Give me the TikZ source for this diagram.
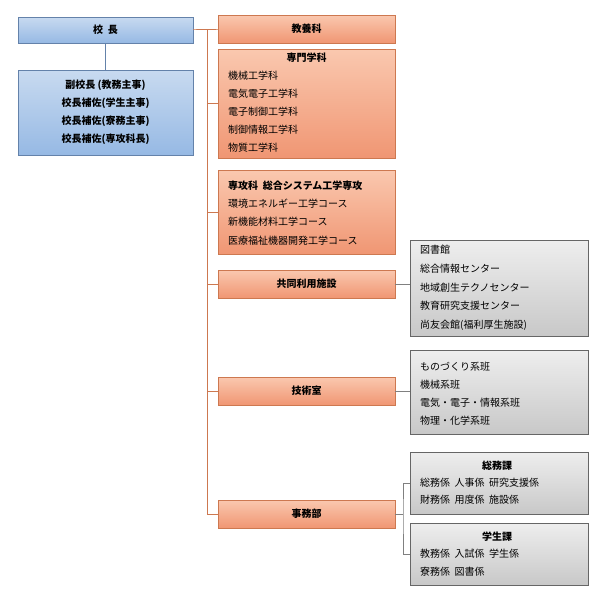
\documentclass[tikz,border=0pt]{standalone}
\usepackage{fontspec}
\setmainfont{Noto Sans CJK JP}
\usetikzlibrary{shadows}

\definecolor{bluetop}{RGB}{200,218,240}
\definecolor{bluebot}{RGB}{150,185,228}
\definecolor{blueedge}{RGB}{100,130,170}
\definecolor{orangetop}{RGB}{250,200,175}
\definecolor{orangebot}{RGB}{240,150,115}
\definecolor{orangeedge}{RGB}{205,120,80}
\definecolor{graytop}{RGB}{238,238,238}
\definecolor{graybot}{RGB}{200,200,200}

\tikzset{
  boxshadow/.style={drop shadow={opacity=0.3, shadow xshift=1pt, shadow yshift=-1pt}},
  bluebox/.style={draw=blueedge, top color=bluetop, bottom color=bluebot, boxshadow, inner sep=0pt},
  orangebox/.style={draw=orangeedge, top color=orangetop, bottom color=orangebot, boxshadow, inner sep=0pt, minimum width=177pt},
  graybox/.style={draw=gray!80!black, top color=graytop, bottom color=graybot, boxshadow, inner sep=0pt, minimum width=178pt},
  head/.style={font=\fontsize{10}{12}\selectfont\bfseries},
  item/.style={font=\fontsize{10}{12}\selectfont, anchor=west, inner sep=0pt},
  orangeline/.style={draw=orangeedge, line width=0.6pt},
  grayline/.style={draw=gray, line width=0.6pt}
}

\begin{document}
\begin{tikzpicture}[x=1pt, y=-1pt]
	\useasboundingbox (0,0) rectangle (600,597);
	% left column
	\node[bluebox, minimum width=175pt, minimum height=26pt, head] (kocho) at (105.5,30) {校\ \ 長};
	\node[bluebox, minimum width=175pt, minimum height=85pt, align=center, font=\fontsize{10}{18}\selectfont\bfseries] (fuku) at (105.5,112.5) {副校長\ (教務主事)\\校長補佐(学生主事)\\校長補佐(寮務主事)\\校長補佐(専攻科長)};
	\draw[draw=blueedge, line width=0.6pt] (kocho) -- (fuku);
	% middle column
	\node[orangebox, minimum height=28pt, head] (kyoyo) at (306.5,29) {教養科};
	\node[orangebox, minimum height=109pt] (senmon) at (306.5,103.5) {};
	\node[head] at (306.5,58) {専門学科};
	\foreach \t [count=\i] in {機械工学科,電気電子工学科,電子制御工学科,制御情報工学科,物質工学科}
		\node[item] at (228,58+18*\i) {\t};
	\node[orangebox, minimum height=84pt] (senkou) at (306.5,212) {};
	\node[item, head] at (228,186) {専攻科\ \ 総合システム工学専攻};
	\foreach \t [count=\i] in {環境エネルギー工学コース,新機能材料工学コース,医療福祉機器開発工学コース}
		\node[item] at (228,185+18.5*\i) {\t};
	\node[orangebox, minimum height=28pt, head] (kyodo) at (306.5,284) {共同利用施設};
	\node[orangebox, minimum height=28pt, head] (gijutsu) at (306.5,391) {技術室};
	\node[orangebox, minimum height=28pt, head] (jimu) at (306.5,514) {事務部};
	% trunk
	\coordinate (top) at (207,30);
	\draw[orangeline] (kocho) -- (kyoyo);
	\draw[orangeline] (top) |- (jimu);
	\foreach \n in {senmon,senkou,kyodo,gijutsu}
		\draw[orangeline] (top |- \n.west) -- (\n.west);
	% right column
	\node[graybox, minimum height=96pt] (shisetsu) at (499,288) {};
	\foreach \t [count=\i] in {図書館,総合情報センター,地域創生テクノセンター,教育研究支援センター,尚友会館(福利厚生施設)}
		\node[item] at (420,231+18.8*\i) {\t};
	\node[graybox, minimum height=84pt] (han) at (499,392) {};
	\foreach \t [count=\i] in {ものづくり系班,機械系班,電気・電子・情報系班,物理・化学系班}
		\node[item] at (420,348+18.2*\i) {\t};
	\node[graybox, minimum height=62pt] (somu) at (499,483) {};
	\node[head] at (497,466) {総務課};
	\node[item] at (420,483) {総務係\ \ 人事係\ \ 研究支援係};
	\node[item] at (420,500) {財務係\ \ 用度係\ \ 施設係};
	\node[graybox, minimum height=62pt] (gakusei) at (499,554) {};
	\node[head] at (497,537) {学生課};
	\node[item] at (420,554) {教務係\ \ 入試係\ \ 学生係};
	\node[item] at (420,572) {寮務係\ \ 図書係};
	% gray connectors
	\draw[grayline] (kyodo) -- (kyodo -| shisetsu.west);
	\draw[grayline] (gijutsu) -- (gijutsu -| han.west);
	\coordinate (fork) at (403,514);
	\draw[grayline] (jimu) -- (fork);
	\draw[grayline] (somu.west) -| (fork) |- (gakusei.west);
\end{tikzpicture}
\end{document}
